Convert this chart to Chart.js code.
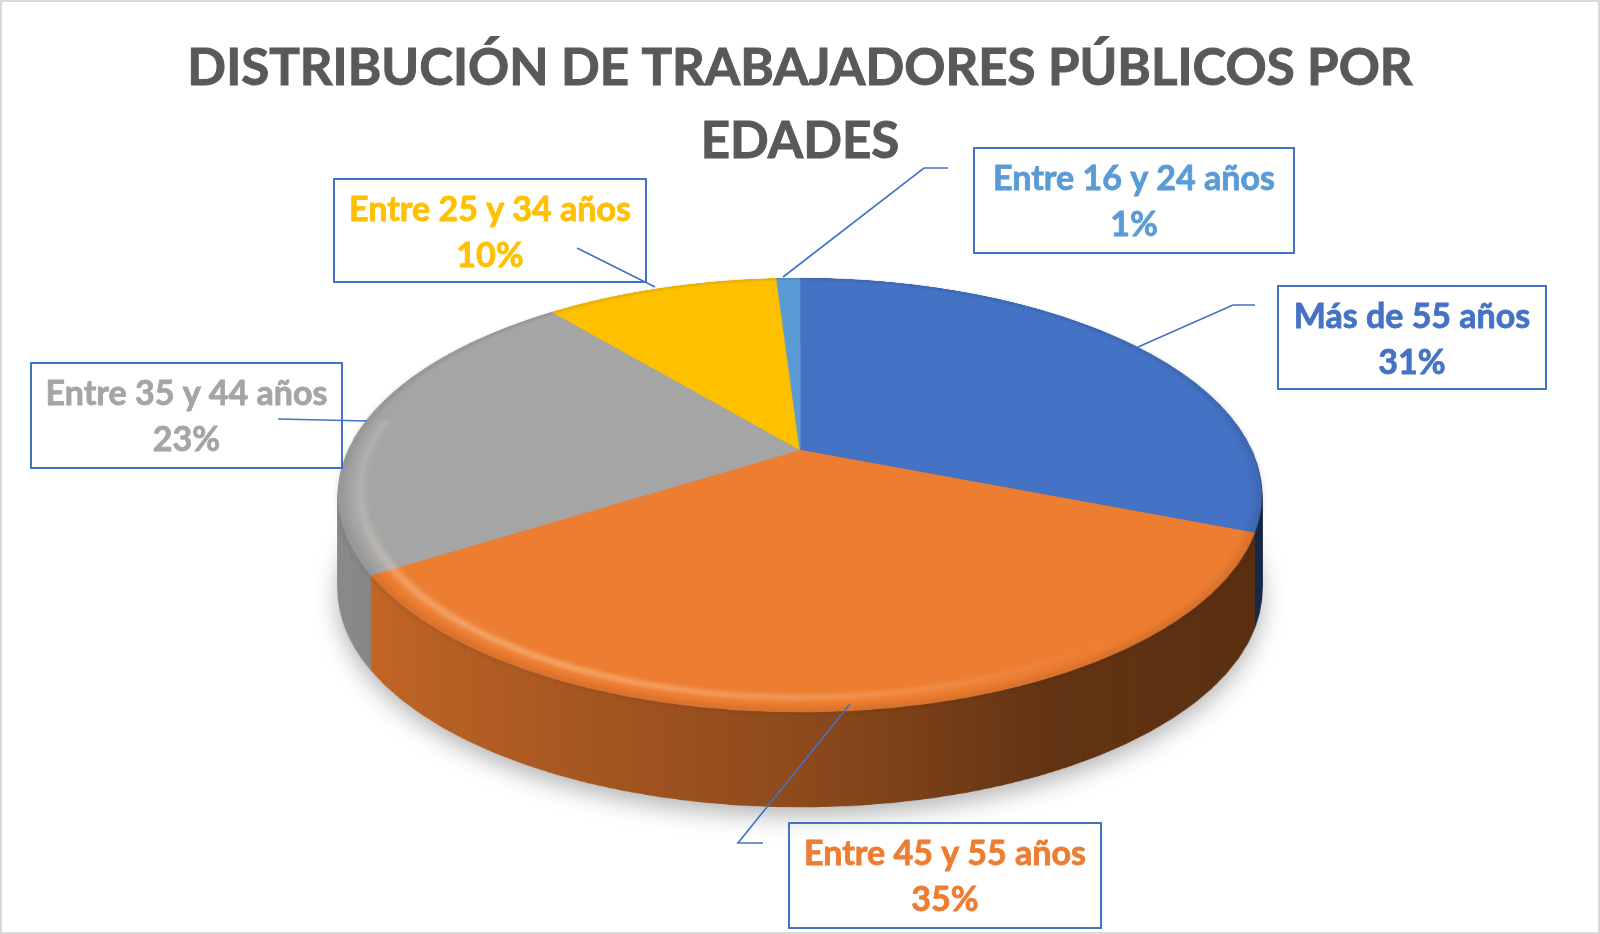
<!DOCTYPE html>
<html><head><meta charset="utf-8">
<script src="https://cdn.jsdelivr.net/npm/chart.js@4.4.0/dist/chart.umd.min.js"></script>
<style>html,body{margin:0;padding:0;background:#fff;}#wrap{width:1600px;height:934px;position:relative;}</style>
</head><body><div id="wrap"><canvas id="c"></canvas></div>
<script>
// ---- data ----
const titleLines = ['DISTRIBUCIÓN DE TRABAJADORES PÚBLICOS POR', 'EDADES'];
const categories = ['Más de 55 años', 'Entre 45 y 55 años', 'Entre 35 y 44 años', 'Entre 25 y 34 años', 'Entre 16 y 24 años'];
const shares = [31, 35, 23, 10, 1];
const sliceColors = ['#4472C4', '#ED7D31', '#A5A5A5', '#FFC000', '#5B9BD5'];

// ---- layout / style ----
// perspective view of the pie: projected centre, half width/height of the top face, tilt factor, side depth
const view = { cx: 800, cy: 450, halfW: 451.5, halfH: 207.7, tilt: 0.2073, depth: 95 };
const labelBoxes = [
  { x: 1278, y: 286, w: 268, h: 103, leader: [[1255, 305], [1233, 305], [1138, 347]] },
  { x: 789, y: 823, w: 312, h: 105, leader: [[763, 843], [738, 843], [850, 704]] },
  { x: 31, y: 363, w: 311, h: 105, leader: [[367, 421], [278, 419]] },
  { x: 334, y: 179, w: 312, h: 103, leader: [[577, 248], [655, 287]] },
  { x: 974, y: 148, w: 320, h: 105, leader: [[948, 168], [924, 168], [783, 277]] }
];
const FONT = 'Lato, "Open Sans", sans-serif';

function shade(hex, f) {
  const n = parseInt(hex.slice(1), 16);
  const r = Math.round(((n >> 16) & 255) * f), g = Math.round(((n >> 8) & 255) * f), b = Math.round((n & 255) * f);
  return `rgb(${r},${g},${b})`;
}

function makeCanvas(w, h) {
  const c = document.createElement('canvas');
  c.width = w; c.height = h;
  return c;
}

// perspective warp (rotation about the horizontal axis): rows stay horizontal, each row scaled about cx
function warp(src, R, pad, dst) {
  const S = src.width;
  const sx = view.halfW / R, sy = view.halfH / R, c = view.tilt / R;
  const vOf = Y => { const q = (Y - view.cy) / sy; return q / (1 + c * q); };
  const yTop = Math.floor(view.cy - view.halfH / (1 + view.tilt)) - 3;
  const yBot = Math.ceil(view.cy + view.halfH / (1 - view.tilt)) + 3;
  for (let Y = yTop; Y <= yBot; Y++) {
    let v0 = vOf(Y), v1 = vOf(Y + 1);
    v0 = Math.max(v0, -R - pad); v1 = Math.min(v1, R + pad);
    if (v1 <= v0) continue;
    const w = 1 / (1 - c * (v0 + v1) / 2);
    const half = (S / 2) * sx * w;
    dst.drawImage(src, 0, v0 + R + pad, S, v1 - v0, view.cx - half, Y, 2 * half, 1);
  }
}

const pie3d = {
  id: 'pie3d',
  beforeDraw(chart) {
    const ctx = chart.ctx;
    ctx.save();
    ctx.fillStyle = '#ffffff';
    ctx.fillRect(0, 0, chart.width, chart.height);
    ctx.strokeStyle = '#D9D9D9';
    ctx.lineWidth = 2;
    ctx.strokeRect(1, 1, chart.width - 2, chart.height - 2);
    ctx.fillStyle = '#595959';
    ctx.strokeStyle = '#595959';
    ctx.lineWidth = 1;
    ctx.font = `bold 51px ${FONT}`;
    ctx.textAlign = 'center';
    ctx.textBaseline = 'alphabetic';
    ctx.fillText(titleLines[0], 800, 85);
    ctx.strokeText(titleLines[0], 800, 85);
    ctx.fillText(titleLines[1], 800, 158);
    ctx.strokeText(titleLines[1], 800, 158);
    ctx.restore();
  },
  beforeDatasetsDraw(chart) {
    const ctx = chart.ctx;
    const meta = chart.getDatasetMeta(0);
    const a0 = meta.data[0];
    const R = a0.outerRadius, px = a0.x, py = a0.y;
    const pad = 3, S = Math.ceil(2 * (R + pad));
    // flat top face drawn by the chart's own arc elements
    const top = makeCanvas(S, S);
    const tctx = top.getContext('2d');
    tctx.translate(R + pad - px, R + pad - py);
    meta.data.forEach(el => el.draw(tctx));
    // bevel: darker outer rim and a soft highlight just inside it
    tctx.save();
    tctx.filter = 'blur(3px)';
    tctx.strokeStyle = 'rgba(0,0,0,0.12)';
    tctx.lineWidth = 6;
    tctx.beginPath();
    tctx.arc(px, py, R - 2, 0, Math.PI * 2);
    tctx.stroke();
    const hg = tctx.createLinearGradient(px - R, 0, px + R, 0);
    hg.addColorStop(0, 'rgba(255,255,255,0.12)');
    hg.addColorStop(0.12, 'rgba(255,225,195,0.45)');
    hg.addColorStop(0.3, 'rgba(255,205,160,0.6)');
    hg.addColorStop(0.55, 'rgba(255,195,145,0.4)');
    hg.addColorStop(0.8, 'rgba(255,190,140,0)');
    tctx.strokeStyle = hg;
    tctx.lineWidth = 7;
    tctx.beginPath();
    tctx.arc(px, py, R * 0.955, Math.PI * 0.1, Math.PI * 1.05);
    tctx.stroke();
    tctx.restore();
    // side colour version of the same arcs
    const side = makeCanvas(S, S);
    const sctx = side.getContext('2d');
    sctx.translate(R + pad - px, R + pad - py);
    meta.data.forEach((el, i) => {
      const g = sctx.createLinearGradient(px - R, 0, px + R, 0);
      g.addColorStop(0, shade(sliceColors[i], 0.86));
      g.addColorStop(0.5, shade(sliceColors[i], 0.6));
      g.addColorStop(0.72, shade(sliceColors[i], 0.42));
      g.addColorStop(1, shade(sliceColors[i], 0.38));
      const proxy = Object.create(el);
      proxy.options = Object.assign({}, el.options, { backgroundColor: g, borderColor: g, borderWidth: 1 });
      Chart.ArcElement.prototype.draw.call(proxy, sctx);
    });
    const sideW = makeCanvas(chart.width, chart.height);
    warp(side, R, pad, sideW.getContext('2d'));
    ctx.save();
    for (let d = view.depth; d >= 1; d--) {
      if (d === view.depth) {
        ctx.shadowColor = 'rgba(0,0,0,0.30)';
        ctx.shadowBlur = 24;
        ctx.shadowOffsetY = 8;
      } else {
        ctx.shadowColor = 'rgba(0,0,0,0)';
        ctx.shadowBlur = 0;
        ctx.shadowOffsetY = 0;
      }
      ctx.drawImage(sideW, 0, d, chart.width, chart.height);
    }
    ctx.restore();
    warp(top, R, pad, ctx);
    return false;
  },
  afterDraw(chart) {
    const ctx = chart.ctx;
    ctx.save();
    labelBoxes.forEach((b, i) => {
      ctx.strokeStyle = '#4472C4';
      ctx.lineWidth = 1.6;
      ctx.beginPath();
      b.leader.forEach((p, k) => k ? ctx.lineTo(p[0], p[1]) : ctx.moveTo(p[0], p[1]));
      ctx.stroke();
      ctx.lineWidth = 2;
      ctx.strokeRect(b.x, b.y, b.w, b.h);
      ctx.fillStyle = sliceColors[i];
      ctx.strokeStyle = sliceColors[i];
      ctx.lineWidth = 0.8;
      ctx.font = `bold 34px ${FONT}`;
      ctx.textAlign = 'center';
      ctx.textBaseline = 'alphabetic';
      const cx = b.x + b.w / 2;
      ctx.fillText(categories[i], cx, b.y + 42);
      ctx.strokeText(categories[i], cx, b.y + 42);
      ctx.fillText(shares[i] + '%', cx, b.y + 88);
      ctx.strokeText(shares[i] + '%', cx, b.y + 88);
    });
    ctx.restore();
  }
};

new Chart(document.getElementById('c'), {
  type: 'pie',
  data: {
    labels: categories,
    datasets: [{
      data: shares,
      backgroundColor: sliceColors,
      borderColor: sliceColors,
      borderWidth: 1,
      clip: false
    }]
  },
  options: {
    responsive: true,
    maintainAspectRatio: false,
    animation: false,
    events: [],
    layout: { padding: 10 },
    plugins: { legend: { display: false }, tooltip: { enabled: false }, title: { display: false } }
  },
  plugins: [pie3d]
});
</script>
</body></html>
